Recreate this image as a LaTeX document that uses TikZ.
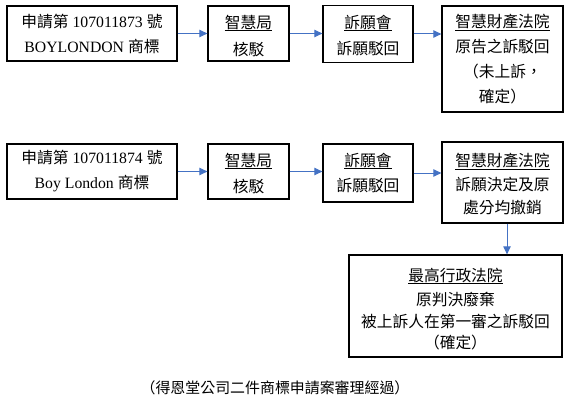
\documentclass[tikz,border=0pt]{standalone}
\usepackage{fontspec}
\setmainfont{Liberation Serif}
\newfontfamily\cjk{Noto Sans CJK TC}
\newcommand{\zh}[1]{{\cjk #1}}
\usetikzlibrary{arrows.meta}
\definecolor{arrowblue}{HTML}{4472C4}
\tikzset{
  frame/.style={draw=black, line width=0.9pt, inner sep=0pt},
  txt/.style={inner sep=0pt, align=center, font=\fontsize{11.8pt}{18.75pt}\selectfont},
  ulline/.style={draw=black, line width=0.6pt},
  flow/.style={draw=arrowblue, line width=0.75pt, -{Triangle[length=6pt,width=5.5pt]}},
}
\begin{document}
\begin{tikzpicture}[x=0.75pt,y=-0.75pt]
\useasboundingbox (0,0) rectangle (570,406);
% ---------- row 1 ----------
\node[frame, txt, minimum width=127.5pt, minimum height=41.25pt] (b1) at (92,33.5)
  {\zh{申請第} 107011873 \zh{號}\\ BOYLONDON \zh{商標}};
\node[frame, minimum width=60.75pt, minimum height=41.25pt] (b2) at (248.5,33.5) {};
\node[txt] (t2) at (248.5,22) {\zh{智慧局}};
\node[txt] (c2) at (248.5,49.5) {\zh{核駁}};
\node[frame, minimum width=67.5pt, minimum height=42.75pt] (b3) at (368,34) {};
\node[txt] (t3) at (368,22) {\zh{訴願會}};
\node[txt] (c3) at (368,49) {\zh{訴願駁回}};
\node[frame, minimum width=90.75pt, minimum height=79.5pt] (b4) at (502.5,59) {};
\node[txt] (t4) at (502.5,22) {\zh{智慧財產法院}};
\node[txt] (c4) at (502.5,72) {\zh{原告之訴駁回}\\ \zh{（未上訴，}\\ \zh{確定）}};
% ---------- row 2 ----------
\node[frame, txt, minimum width=127.5pt, minimum height=41.25pt] (b5) at (92,171.5)
  {\zh{申請第} 107011874 \zh{號}\\ Boy London \zh{商標}};
\node[frame, minimum width=60.75pt, minimum height=41.25pt] (b6) at (248.5,171.5) {};
\node[txt] (t6) at (248.5,160) {\zh{智慧局}};
\node[txt] (c6) at (248.5,186) {\zh{核駁}};
\node[frame, minimum width=67.5pt, minimum height=43.5pt] (b7) at (368,173) {};
\node[txt] (t7) at (368,160) {\zh{訴願會}};
\node[txt] (c7) at (368,186) {\zh{訴願駁回}};
\node[frame, minimum width=90.75pt, minimum height=60.75pt] (b8) at (502.5,182.5) {};
\node[txt] (t8) at (502.5,161) {\zh{智慧財產法院}};
\node[txt, font=\fontsize{11.8pt}{17.25pt}\selectfont] (c8) at (502.5,196.5) {\zh{訴願決定及原}\\ \zh{處分均撤銷}};
% ---------- row 3 ----------
\node[frame, minimum width=159.75pt, minimum height=76.5pt] (b9) at (455.5,306) {};
\node[txt] (t9) at (455.5,275) {\zh{最高行政法院}};
\node[txt, font=\fontsize{11.8pt}{16.1pt}\selectfont] (c9) at (455.5,321.5)
  {\zh{原判決廢棄}\\ \zh{被上訴人在第一審之訴駁回}\\ \zh{（確定）}};
\node[txt, font=\fontsize{11.2pt}{14pt}\selectfont] (cap) at (275,388)
  {\zh{（得恩堂公司二件商標申請案審理經過）}};
% ---------- underlines ----------
\foreach \t in {t2,t3,t4,t6,t7,t8,t9}
  \draw[ulline] ([yshift=-0.3pt]\t.south west) -- ([yshift=-0.3pt]\t.south east);
% ---------- connectors ----------
\draw[flow] (b1.east) -- (b2.west);
\draw[flow] (b2.east) -- (b2.east -| b3.west);
\draw[flow] (b3.east) -- (b3.east -| b4.west);
\draw[flow] (b5.east) -- (b6.west);
\draw[flow] (b6.east) -- (b6.east -| b7.west);
\draw[flow] (b7.east) -- (b7.east -| b8.west);
\coordinate (d1) at (507,223);
\draw[flow] (d1 |- b8.south) -- (d1 |- b9.north);
\end{tikzpicture}
\end{document}
